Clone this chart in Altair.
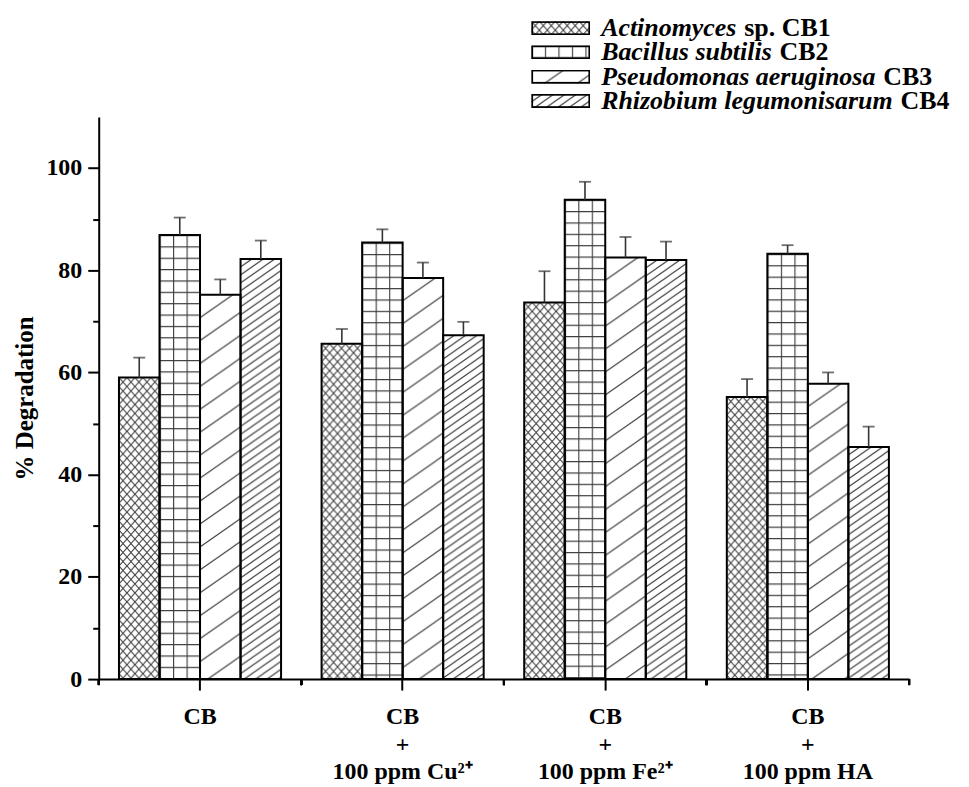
import altair as alt
import pandas as pd
from urllib.parse import quote

# ---------------- data ----------------
conditions = ["CB", "CB|+|100 ppm Cu²⁺", "CB|+|100 ppm Fe²⁺", "CB|+|100 ppm HA"]
series = ["Actinomyces sp. CB1", "Bacillus subtilis CB2",
          "Pseudomonas aeruginosa CB3", "Rhizobium legumonisarum CB4"]
series_italic = ["Actinomyces", "Bacillus subtilis", "Pseudomonas aeruginosa", "Rhizobium legumonisarum"]
series_bold = ["sp. CB1", "CB2", "CB3", "CB4"]

cb1 = [59.0, 65.6, 73.7, 55.2]
cb2 = [86.9, 85.4, 93.8, 83.2]
cb3 = [75.2, 78.5, 82.5, 57.8]
cb4 = [82.2, 67.3, 82.0, 45.4]
cb1_err = [3.9, 2.9, 6.1, 3.5]
cb2_err = [3.4, 2.6, 3.5, 1.7]
cb3_err = [3.0, 3.0, 4.0, 2.2]
cb4_err = [3.6, 2.6, 3.6, 4.0]

y_ticks = [0, 10, 20, 30, 40, 50, 60, 70, 80, 90, 100]

# ---------------- hatch patterns (SVG images) ----------------
def pattern_url(path, w, h, border=False):
    svg = ("<svg xmlns='http://www.w3.org/2000/svg' width='100%' height='100%'>"
           f"<defs><pattern id='p' patternUnits='userSpaceOnUse' width='{w}' height='{h}'>"
           f"<path d='{path}' stroke='#3a3a3a' stroke-width='1.1' fill='none'/></pattern></defs>"
           "<rect width='100%' height='100%' fill='white'/>"
           "<rect width='100%' height='100%' fill='url(#p)'/>")
    if border:
        svg += "<rect width='100%' height='100%' fill='none' stroke='black' stroke-width='3.5'/>"
    svg += "</svg>"
    return "data:image/svg+xml;charset=utf-8," + quote(svg)

def slash(v, slope=0.7):
    w = round(v / slope, 2)
    d = round(slope, 2)
    return (f"M0,{v}L{w},0M-1,{d}L1,-{d}M{w-1},{v+d}L{w+1},{v-d}", w, v)

pat_defs = [
    ("M-1,-1.1L9,10.1M9,-1.1L-1,10.1", 8, 9),          # cross hatch
    ("M0.6,0V11.4M0,0.6H13.55", 13.55, 11.4),          # grid
    slash(23),                                          # sparse /
    slash(8),                                           # dense /
]
bar_urls = {s: pattern_url(*p) for s, p in zip(series, pat_defs)}
leg_urls = {s: pattern_url(*p, border=True) for s, p in zip(series, pat_defs)}

rows = []
for s, vals, errs in zip(series, [cb1, cb2, cb3, cb4], [cb1_err, cb2_err, cb3_err, cb4_err]):
    for c, v, e in zip(conditions, vals, errs):
        rows.append({"cond": c, "series": s, "value": v, "upper": v + e, "url": bar_urls[s]})
df = pd.DataFrame(rows)

# legend table
bi_w = {"A": 667, "B": 667, "P": 611, "R": 667, "a": 500, "b": 500, "c": 444, "d": 500,
        "e": 444, "g": 500, "h": 556, "i": 278, "l": 278, "m": 778, "n": 556, "o": 500,
        "r": 389, "s": 389, "t": 278, "u": 556, "y": 444, "z": 389, " ": 250}
LF = 26
leg_rows = []
for i, (s, it, bo) in enumerate(zip(series, series_italic, series_bold)):
    wpx = sum(bi_w.get(ch, 500) for ch in it) * LF / 1000.0
    leg_rows.append({"row": i, "it": it, "bo": bo, "url": leg_urls[s], "bx": 504 + wpx + 0.3 * LF})
leg = pd.DataFrame(leg_rows)

FONT = "Liberation Serif"

x_enc = alt.X("cond:N", sort=conditions,
              scale=alt.Scale(paddingInner=0, paddingOuter=0),
              axis=alt.Axis(title=None, labelAngle=0, labelExpr="split(datum.label, '|')",
                            labelFont=FONT, labelFontSize=24, labelFontWeight="bold",
                            labelColor="black", labelLineHeight=27.5, labelBaseline="top",
                            labelPadding=15, tickSize=11))
xo_enc = alt.XOffset("series:N", sort=series,
                     scale=alt.Scale(paddingInner=0, paddingOuter=0.5))
y_enc = alt.Y("value:Q",
              scale=alt.Scale(domain=[0, 110], nice=False),
              axis=alt.Axis(title="% Degradation", values=y_ticks, grid=False,
                            tickSize={"condition": {"test": "datum.value % 20 === 0", "value": 11}, "value": 6},
                            labelExpr="datum.value % 20 === 0 ? datum.label : ''",
                            labelFont=FONT, labelFontSize=24, labelFontWeight="bold",
                            labelColor="black", labelPadding=6,
                            titleFont=FONT, titleFontSize=25, titleFontWeight="bold",
                            titleColor="black", titleAngle=270, titleX=-74, titleY=282,
                            titleAlign="center", titleBaseline="middle"))

base = alt.Chart(df)

fills = base.mark_image(aspect=False).encode(x=x_enc, xOffset=xo_enc, y=y_enc, url="url:N")
outlines = base.mark_bar(fillOpacity=0, stroke="black", strokeWidth=2).encode(
    x=x_enc, xOffset=xo_enc, y=y_enc)
err_line = base.mark_rule(color="#333", strokeWidth=1.6).encode(
    x=x_enc, xOffset=xo_enc, y="value:Q", y2="upper:Q")
err_cap = base.mark_tick(color="#333", size=12, thickness=1.8, orient="horizontal").encode(
    x=x_enc, xOffset=xo_enc, y="upper:Q")
minor0 = base.mark_rule(color="black", strokeWidth=2).encode(
    x=alt.X("cond:N", sort=conditions, bandPosition=0), y=alt.value(564), y2=alt.value(570))
minor1 = base.mark_rule(color="black", strokeWidth=2).encode(
    x=alt.X("cond:N", sort=conditions, bandPosition=1), y=alt.value(564), y2=alt.value(570))

main = alt.layer(fills, outlines, err_line, err_cap, minor0, minor1)

lbase = alt.Chart(leg)
ly = alt.Y("row:O", axis=None, scale=alt.Scale(type="point", range=[-89, -16], padding=0))
leg_img = lbase.mark_image(aspect=False, width=59, height=14, baseline="middle", align="left").encode(
    x=alt.value(434), y=ly, url="url:N")
leg_it = lbase.mark_text(font=FONT, fontSize=LF, fontStyle="italic", fontWeight="bold",
                         align="left", baseline="middle", color="black").encode(
    x=alt.value(504), y=ly, text="it:N")
leg_bo = lbase.mark_text(font=FONT, fontSize=LF, fontWeight="bold",
                         align="left", baseline="middle", color="black").encode(
    x=alt.X("bx:Q", scale=None), y=ly, text="bo:N")
legend = alt.layer(leg_img, leg_it, leg_bo)

chart = alt.layer(main, legend).resolve_scale(y="independent").properties(
    width=813, height=564,
    padding={"left": 91, "top": 108, "right": 52, "bottom": 107},
    autosize=alt.AutoSizeParams(type="none"),
).configure_view(stroke=None).configure_axis(
    domainColor="black", domainWidth=2, tickColor="black", tickWidth=2
)

chart.save("out.html", embed_options={"renderer": "svg", "actions": False})
